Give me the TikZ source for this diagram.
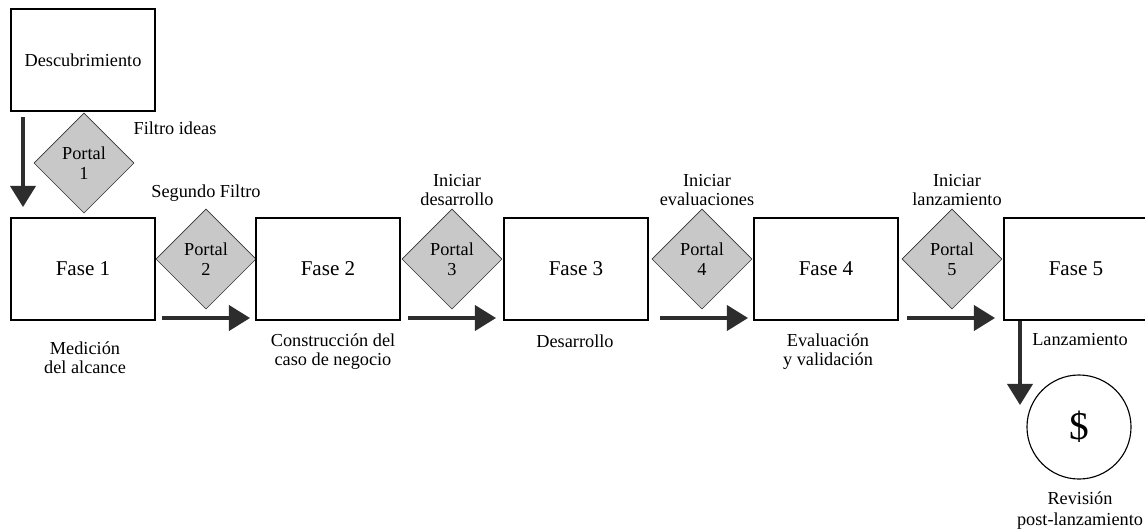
\documentclass[tikz,border=0pt]{standalone}
\usepackage{fontspec}
\setmainfont{Liberation Serif}
\usetikzlibrary{shapes.geometric,arrows.meta}
\definecolor{portalgray}{RGB}{200,200,200}
\definecolor{flecha}{RGB}{45,45,45}

\begin{document}
\begin{tikzpicture}[x=0.025cm,y=-0.025cm,
  fase/.style={draw,line width=1pt,minimum width=3.6cm,minimum height=2.55cm,inner sep=0pt,font=\fontsize{15}{18}\selectfont},
  portal/.style={diamond,draw=black!80,fill=portalgray,minimum width=2.5cm,minimum height=2.5cm,inner sep=0pt,align=center,font=\fontsize{13}{14}\selectfont},
  etiqueta/.style={align=center,inner sep=0pt,font=\fontsize{13}{13.5}\selectfont},
  avance/.style={draw=flecha,line width=2.2pt,-{Triangle[width=18pt,length=15pt]}}]
\useasboundingbox (0,0) rectangle (1145,529);
\node [fase,font=\fontsize{13}{16}\selectfont] (desc) at (83,60) {Descubrimiento};
\node [portal] (p1) at (84,163) {Portal\\1};
\node [etiqueta] (l1) at (175,128) {Filtro ideas};
\node [fase] (f1) at (83,269) {Fase 1};
\node [portal] (p2) at (206,259) {Portal\\2};
\node [etiqueta] (l2) at (206,193) {Segundo Filtro};
\node [fase] (f2) at (328,269) {Fase 2};
\node [portal] (p3) at (452,259) {Portal\\3};
\node [etiqueta] (l3) at (457,190) {Iniciar\\desarrollo};
\node [fase] (f3) at (576,269) {Fase 3};
\node [portal] (p4) at (702,259) {Portal\\4};
\node [etiqueta] (l4) at (707,190) {Iniciar\\evaluaciones};
\node [fase] (f4) at (826,269) {Fase 4};
\node [portal] (p5) at (952,259) {Portal\\5};
\node [etiqueta] (l5) at (957,190) {Iniciar\\lanzamiento};
\node [fase] (f5) at (1076,269) {Fase 5};
\node [etiqueta] (m1) at (85,358) {Medición\\del alcance};
\node [etiqueta] (m2) at (333,352) {Construcción del\\caso de negocio};
\node [etiqueta] (m3) at (575,341) {Desarrollo};
\node [etiqueta] (m4) at (828,352) {Evaluación\\y validación};
\node [etiqueta] (m5) at (1080,340) {Lanzamiento};
\node [circle,draw,line width=0.8pt,minimum size=2.6cm,inner sep=0pt,font=\fontsize{28}{30}\selectfont] (rev) at (1079,427) {\$};
\node [etiqueta,font=\fontsize{13}{15}\selectfont] (m6) at (1080,511) {Revisión\\post-lanzamiento};
\coordinate (d0) at (23,117);
\coordinate (d1) at (23,207);
\coordinate (a1i) at (162,318);
\coordinate (a1f) at (250,318);
\coordinate (a2i) at (408,318);
\coordinate (a2f) at (496,318);
\coordinate (a3i) at (660,318);
\coordinate (a3f) at (748,318);
\coordinate (a4i) at (907,318);
\coordinate (a4f) at (995,318);
\coordinate (b0) at (f5.south west -| 1020,0);
\coordinate (b1) at (1020,405);
\draw [avance] (d0) -- (d1);
\draw [avance] (a1i) -- (a1f);
\draw [avance] (a2i) -- (a2f);
\draw [avance] (a3i) -- (a3f);
\draw [avance] (a4i) -- (a4f);
\draw [avance] (b0) -- (b1);
\end{tikzpicture}
\end{document}
